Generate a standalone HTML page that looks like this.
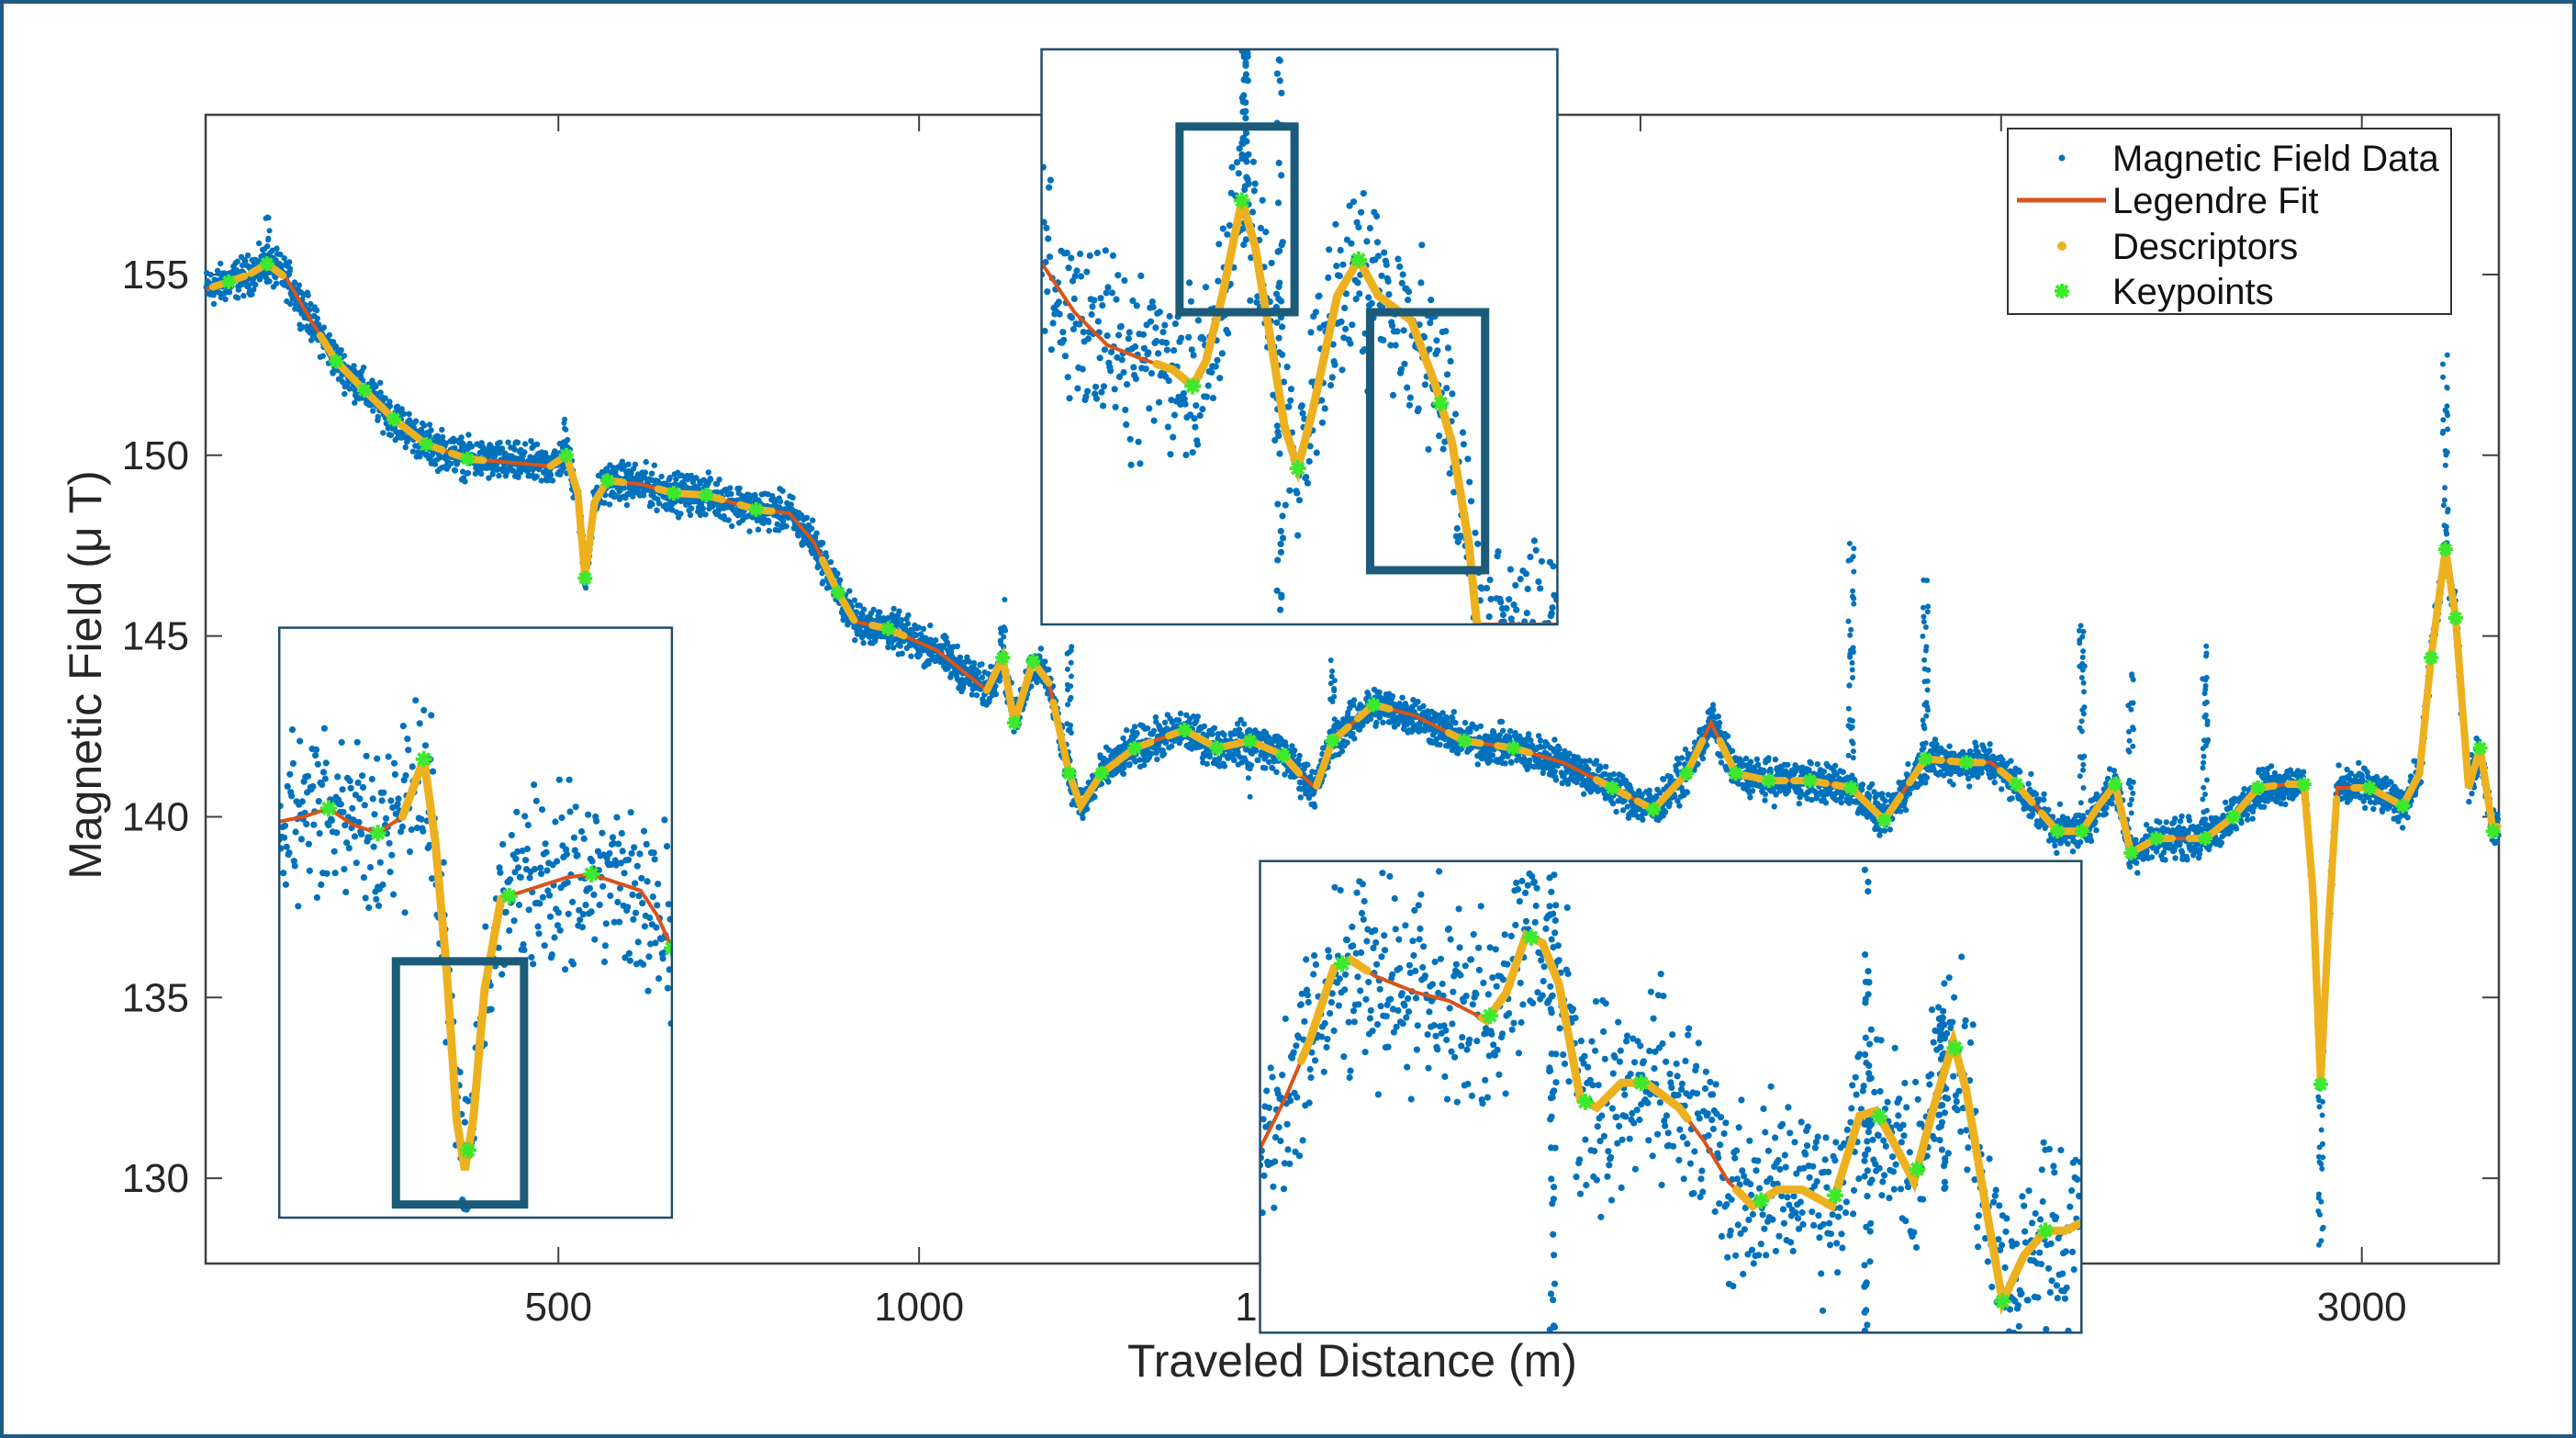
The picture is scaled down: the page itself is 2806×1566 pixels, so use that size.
<!DOCTYPE html>
<html><head><meta charset="utf-8"><title>Magnetic field chart</title>
<style>
html,body{margin:0;padding:0;background:#fff;}
svg{display:block;font-family:"Liberation Sans",Arial,sans-serif;}
</style></head>
<body>
<svg id="chart" width="2806" height="1566" viewBox="0 0 2806 1566">
  <rect x="2" y="2" width="2802" height="1562" fill="#fff" stroke="#1f5a82" stroke-width="4"/>
  <g id="main"></g>
  <g id="insets"></g>
  <g id="legend">
    <rect x="2187" y="140" width="483" height="202" fill="#fff" stroke="#333" stroke-width="2"/>
    <circle cx="2246" cy="172" r="3.5" fill="#0072BD"/>
    <text x="2301" y="186" font-size="40" fill="#111">Magnetic Field Data</text>
    <line x1="2197" y1="218" x2="2294" y2="218" stroke="#D95319" stroke-width="5"/>
    <text x="2301" y="232" font-size="40" fill="#111">Legendre Fit</text>
    <circle cx="2246" cy="268" r="5" fill="#EDB120"/>
    <text x="2301" y="282" font-size="40" fill="#111">Descriptors</text>
    <g stroke="#3EE82E" stroke-width="4">
      <line x1="2238" y1="317" x2="2254" y2="317"/><line x1="2246" y1="309" x2="2246" y2="325"/>
      <line x1="2240" y1="311" x2="2252" y2="323"/><line x1="2252" y1="311" x2="2240" y2="323"/>
    </g>
    <text x="2301" y="331" font-size="40" fill="#111">Keypoints</text>
  </g>
</svg>
<script>
// ---------- main chart data ----------
const fitX = [12,43,71,96,123,158,192,231,272,317,374,432,489,511,527,537,550,568,614,660,705,774,820,854,888,911,957,1025,1094,1116,1132,1158,1180,1208,1224,1253,1299,1368,1413,1459,1505,1527,1550,1573,1630,1687,1756,1824,1893,1961,2018,2064,2098,2132,2178,2235,2292,2338,2395,2452,2486,2521,2578,2612,2635,2658,2680,2715,2783,2822,2856,2897,2920,2932,2943,2954,2966,3011,3057,3080,3096,3116,3130,3148,3164,3182,3196];
const fitY = [154.6,154.8,155.0,155.3,154.9,153.7,152.6,151.8,151.0,150.3,149.9,149.8,149.7,150.0,148.95,146.6,148.7,149.3,149.2,148.95,148.9,148.5,148.4,147.6,146.2,145.4,145.2,144.6,143.5,144.4,142.6,144.3,143.7,141.2,140.3,141.2,141.9,142.4,141.9,142.1,141.7,141.2,140.8,142.1,143.1,142.8,142.1,141.9,141.5,140.8,140.2,141.2,142.6,141.2,141.0,141.0,140.8,139.9,141.6,141.5,141.5,140.9,139.6,139.6,140.3,140.9,139.0,139.4,139.4,140.0,140.8,140.9,140.9,138.0,132.6,137.1,140.8,140.8,140.3,141.2,144.4,147.4,145.5,140.8,141.9,139.6,139.9];
const keyX = [43,96,192,231,272,317,374,511,537,568,660,705,774,888,957,1116,1132,1158,1208,1253,1299,1368,1413,1459,1505,1573,1630,1756,1824,1961,2018,2064,2132,2178,2235,2292,2338,2395,2452,2521,2578,2612,2658,2680,2715,2783,2822,2856,2920,2943,3011,3057,3096,3116,3130,3164,3182];
const spikeX = [96,511,1116,1208,1459,1573,2098,2292,2395,2612,2680,2783,2943,3116];
const spikeTop = [156.6,151.0,146.2,145.0,140.5,144.5,143.5,147.8,146.7,145.3,144.0,145.0,128.0,152.8];
const noiseAmp = 0.45;
const xTicks = [500,1000,1500,2000,2500,3000];
const yTicks = [130,135,140,145,150,155];

const NS="http://www.w3.org/2000/svg";
function mk(tag,attrs,parent){const e=document.createElementNS(NS,tag);for(const k in attrs)e.setAttribute(k,attrs[k]);parent.appendChild(e);return e;}
let seed=12345;function rnd(){seed=(seed*1103515245+12345)%2147483648;return seed/2147483648;}
function gauss(){return (rnd()+rnd()+rnd()-1.5)*1.15;}

const AX={l:224,t:125,r:2722,b:1376}, XMIN=11, XMAX=3190, YMIN=127.64, YMAX=159.42;
const sx=v=>AX.l+(v-XMIN)/(XMAX-XMIN)*(AX.r-AX.l);
const sy=v=>AX.b-(v-YMIN)/(YMAX-YMIN)*(AX.b-AX.t);
function interp(xs,ys,x){if(x<=xs[0])return ys[0];for(let i=1;i<xs.length;i++){if(x<=xs[i]){const t=(x-xs[i-1])/(xs[i]-xs[i-1]);return ys[i-1]+t*(ys[i]-ys[i-1]);}}return ys[ys.length-1];}

const main=document.getElementById('main');
mk('rect',{x:AX.l,y:AX.t,width:AX.r-AX.l,height:AX.b-AX.t,fill:'#fff',stroke:'#404040','stroke-width':2.5},main);
xTicks.forEach(t=>{const x=sx(t);
  const a=mk('line',{x1:x,y1:AX.b,x2:x,y2:AX.b-18,stroke:'#404040','stroke-width':2},main);
  
  mk('line',{x1:x,y1:AX.t,x2:x,y2:AX.t+18,stroke:'#404040','stroke-width':2},main);
  const tx=mk('text',{x:x,y:1438,'font-size':44,'text-anchor':'middle',fill:'#262626'},main);
  tx.textContent=t;});
yTicks.forEach(t=>{const y=sy(t);
  mk('line',{x1:AX.l,y1:y,x2:AX.l+18,y2:y,stroke:'#404040','stroke-width':2},main);
  mk('line',{x1:AX.r,y1:y,x2:AX.r-18,y2:y,stroke:'#404040','stroke-width':2},main);
  const tx=mk('text',{x:206,y:y+15,'font-size':44,'text-anchor':'end',fill:'#262626'},main);
  tx.textContent=t;});
const xl=mk('text',{x:1473,y:1499,'font-size':50,'text-anchor':'middle',fill:'#262626'},main);
xl.textContent='Traveled Distance (m)';


const yl=mk('text',{x:0,y:0,'font-size':50,'text-anchor':'middle',fill:'#262626',transform:'translate(110,735) rotate(-90)'},main);
yl.textContent='Magnetic Field (\u03bc T)';



const sg=mk('g',{fill:'#0072BD'},main);


for(let x=XMIN+1;x<XMAX;x+=0.5){const base=interp(fitX,fitY,x);
  const y=base+gauss()*noiseAmp;mk('circle',{cx:sx(x).toFixed(1),cy:sy(y).toFixed(1),r:3.2},sg);}
spikeX.forEach((x0,i)=>{const base=interp(fitX,fitY,x0),top=spikeTop[i];
  const n=Math.ceil(Math.abs(top-base)/0.18);for(let k=0;k<n;k++){const y=base+(top-base)*rnd();
  mk('circle',{cx:(sx(x0)+(rnd()-0.5)*6).toFixed(1),cy:sy(y).toFixed(1),r:3},sg);}});
let d='';for(let x=XMIN+1;x<XMAX;x+=2){d+=(d?'L':'M')+sx(x).toFixed(1)+','+sy(interp(fitX,fitY,x)).toFixed(1);}
const fl=mk('path',{d:d,fill:'none',stroke:'#D95319','stroke-width':4},main);


const dg=mk('g',{fill:'none',stroke:'#EDB120','stroke-width':8,'stroke-linecap':'round'},main);


keyX.forEach(k=>{let p='';for(let x=Math.max(XMIN+1,k-22);x<=Math.min(XMAX-1,k+22);x+=2){p+=(p?'L':'M')+sx(x).toFixed(1)+','+sy(interp(fitX,fitY,x)).toFixed(1);}mk('path',{d:p},dg);});
function star(g,cx,cy,s){mk('line',{x1:cx-s,y1:cy,x2:cx+s,y2:cy},g);mk('line',{x1:cx,y1:cy-s,x2:cx,y2:cy+s},g);
  mk('line',{x1:cx-s*0.7,y1:cy-s*0.7,x2:cx+s*0.7,y2:cy+s*0.7},g);mk('line',{x1:cx+s*0.7,y1:cy-s*0.7,x2:cx-s*0.7,y2:cy+s*0.7},g);}
const kg=mk('g',{stroke:'#3EE82E','stroke-width':4},main);


keyX.forEach(k=>star(kg,sx(k),sy(interp(fitX,fitY,k)),8));

// ---------- insets (local coordinates) ----------
const topFitU=[0,20,40,60,80,92,100,110,122,130,140,148,156,165,180,193,205,225,240,250,260,265];
const topFitV=[130,160,180,188,195,205,190,150,92,120,180,230,255,220,150,128,150,165,205,240,300,350];
const topKeyU=[92,122,156,193,243];
const leftFitU=[0,15,30,45,60,75,88,95,102,108,113,118,125,135,150,175,190,205,220,230,239];
const leftFitV=[118,115,110,120,125,115,80,130,210,300,330,300,220,165,160,152,150,155,160,175,195];
const leftKeyU=[30,60,88,115,140,190,239];
const botFitU=[0,15,30,45,55,70,95,115,138,150,162,172,182,195,205,220,235,255,270,285,300,315,330,348,365,375,385,398,410,422,430,440,452,465,478,490,500];
const botFitV=[175,145,110,65,60,70,80,85,97,80,45,50,75,145,150,135,135,150,170,195,210,200,200,210,155,152,170,195,150,110,140,200,268,240,225,225,220];
const botKeyU=[50,140,165,198,232,305,350,377,400,423,452,478];

const S=1.7895;
const insets=[
 {name:'inset-top',x:634,y:30,w:314,h:350,fu:topFitU,fv:topFitV,ku:topKeyU,amp:48,cols:[[145,0,350],[124,0,90]],yel:[[70,265]],boxes:[[718,77,70,113],[834,190,70,157]]},
 {name:'inset-left',x:170,y:382,w:239,h:359,fu:leftFitU,fv:leftFitV,ku:leftKeyU,amp:42,cols:[],yel:[[75,140]],boxes:[[241,585,78,148]]},
 {name:'inset-bottom',x:767,y:524,w:500,h:287,fu:botFitU,fv:botFitV,ku:botKeyU,amp:50,cols:[[178,0,287],[370,0,287],[415,90,200]],yel:[[25,65],[135,260],[290,500]],boxes:[]}
];
const ig=document.getElementById('insets');
insets.forEach(o=>{
  const g=mk('g',{},ig);
  
  
  const X=u=>(o.x+u)*S, Y=v=>(o.y+v)*S;
  const cid='clip-'+o.name;
  const cp=mk('clipPath',{id:cid},g);mk('rect',{x:X(0),y:Y(0),width:o.w*S,height:o.h*S},cp);
  mk('rect',{x:X(0),y:Y(0),width:o.w*S,height:o.h*S,fill:'#fff'},g);
  const c=mk('g',{'clip-path':'url(#'+cid+')'},g);
  const dots=mk('g',{fill:'#0072BD'},c);
  for(let u=0;u<o.w;u+=0.5){const v=interp(o.fu,o.fv,u)+gauss()*o.amp;mk('circle',{cx:X(u).toFixed(1),cy:Y(v).toFixed(1),r:3.6},dots);}
  o.cols.forEach(cl=>{for(let k=0;k<40;k++){const v=cl[1]+(cl[2]-cl[1])*rnd();mk('circle',{cx:(X(cl[0])+(rnd()-0.5)*8).toFixed(1),cy:Y(v).toFixed(1),r:3.6},dots);}});
  let p='';for(let u=0;u<=o.w;u+=1){p+=(p?'L':'M')+X(u).toFixed(1)+','+Y(interp(o.fu,o.fv,u)).toFixed(1);}
  mk('path',{d:p,fill:'none',stroke:'#D95319','stroke-width':4},c);
  o.yel.forEach(r=>{let q='';for(let u=r[0];u<=r[1];u+=1){q+=(q?'L':'M')+X(u).toFixed(1)+','+Y(interp(o.fu,o.fv,u)).toFixed(1);}
    mk('path',{d:q,fill:'none',stroke:'#EDB120','stroke-width':9,'stroke-linecap':'round'},c);});
  const kk=mk('g',{stroke:'#3EE82E','stroke-width':4},c);
  o.ku.forEach(u=>star(kk,X(u),Y(interp(o.fu,o.fv,u)),9));
  mk('rect',{x:X(0),y:Y(0),width:o.w*S,height:o.h*S,fill:'none',stroke:'#1f4e6e','stroke-width':2.5},g);
  o.boxes.forEach(b=>{const r=mk('rect',{x:b[0]*S,y:b[1]*S,width:b[2]*S,height:b[3]*S,fill:'none',stroke:'#1b5a78','stroke-width':9},g);
    });
});
</script>
</body></html>
